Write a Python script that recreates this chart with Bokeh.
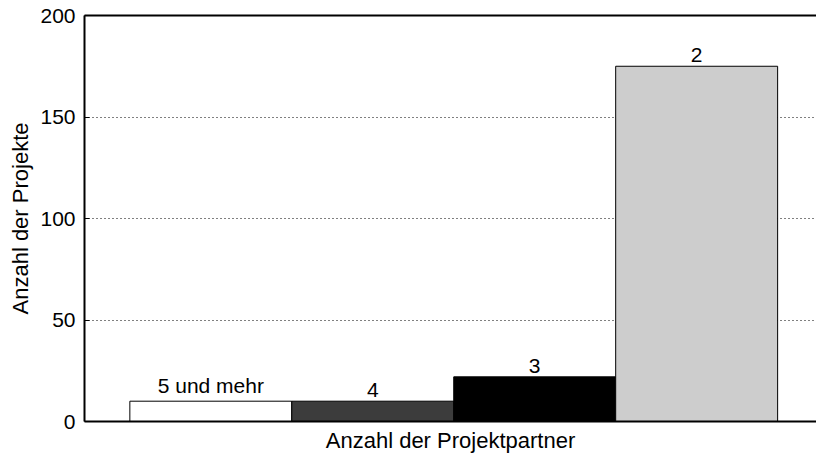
from bokeh.plotting import figure
from bokeh.models import Range1d, ColumnDataSource, LinearAxis, LabelSet
from bokeh.core.properties import value
from bokeh.embed import file_html
from bokeh.resources import INLINE

categories = ["5 und mehr", "4", "3", "2"]
counts = [10, 10, 22, 175]
fills = ["#ffffff", "#3c3c3c", "#000000", "#cdcdcd"]
y_ticks = [0, 50, 100, 150, 200]

FONT = "Liberation Sans"

xpos = list(range(len(categories)))
src = ColumnDataSource(dict(x=xpos, cat=categories, n=counts, fill=fills))

p = figure(width=816, height=458, output_backend="svg", toolbar_location=None,
           x_range=Range1d(-0.78, 3.74),
           y_range=Range1d(0, 200),
           x_axis_location=None,
           min_border_left=84, min_border_right=0, min_border_top=15, min_border_bottom=37)
p.outline_line_color = None
p.background_fill_color = "white"
p.border_fill_color = "white"

p.vbar(x="x", top="n", width=1.0, source=src, fill_color="fill",
       line_color="black", line_width=1)

labels = LabelSet(x="x", y="n", text="cat", source=src, text_align="center",
                  text_baseline="bottom", y_offset=4, text_font=value(FONT),
                  text_font_size=value("21px"), text_color="black")
p.add_layout(labels)

# y axis
p.yaxis.ticker = y_ticks
p.yaxis.ticker.num_minor_ticks = 2
p.yaxis.axis_label = "Anzahl der Projekte"
p.yaxis.axis_label_text_font = FONT
p.yaxis.axis_label_text_font_style = "normal"
p.yaxis.axis_label_text_font_size = "22px"
p.yaxis.axis_label_text_color = "black"
p.yaxis.axis_label_standoff = 4
p.yaxis.major_label_text_font = FONT
p.yaxis.major_label_text_font_size = "21px"
p.yaxis.major_label_text_color = "black"
p.yaxis.major_label_standoff = 9
p.yaxis.axis_line_width = 2
p.yaxis.axis_line_color = "black"
p.yaxis.major_tick_in = 5
p.yaxis.major_tick_out = 0
p.yaxis.minor_tick_in = 4
p.yaxis.minor_tick_out = 0
p.yaxis.major_tick_line_color = "black"
p.yaxis.minor_tick_line_color = "black"

# bottom x axis: line + title only
bottom = LinearAxis(ticker=[], axis_line_width=2, axis_line_color="black",
                    axis_label="Anzahl der Projektpartner",
                    axis_label_text_font=FONT, axis_label_text_font_style="normal",
                    axis_label_text_font_size="22px", axis_label_text_color="black",
                    axis_label_standoff=6,
                    major_tick_line_color=None, minor_tick_line_color=None)
p.add_layout(bottom, "below")

# top frame line
top = LinearAxis(ticker=[], axis_line_width=2, axis_line_color="black",
                 major_tick_line_color=None, minor_tick_line_color=None)
p.add_layout(top, "above")

p.xgrid.grid_line_color = None
p.ygrid.grid_line_color = "black"
p.ygrid.grid_line_dash = "1 3"
p.ygrid.grid_line_width = 1

open("out.html", "w").write(file_html(p, INLINE))
